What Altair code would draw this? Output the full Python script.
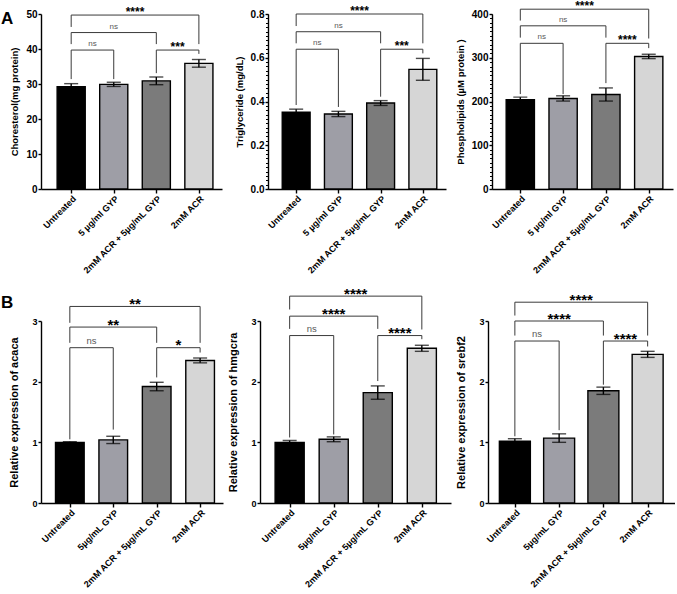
import json
import altair as alt
import pandas as pd

CATS_A = ["Untreated", "5 µg/ml GYP", "2mM ACR + 5µg/mL GYP", "2mM ACR"]
CATS_B = ["Untreated", "5µg/mL GYP", "2mM ACR + 5µg/mL GYP", "2mM ACR"]
BAR_COLORS = ["#000000", "#9e9ea6", "#7b7b7b", "#d6d6d6"]

CHOL_MEAN = [29.2, 29.9, 30.9, 35.9]
CHOL_ERR = [0.9, 0.6, 1.1, 1.1]
TG_MEAN = [0.351, 0.343, 0.393, 0.547]
TG_ERR = [0.014, 0.012, 0.011, 0.05]
PL_MEAN = [204, 207, 216, 303]
PL_ERR = [6, 6, 15, 5]
ACACA_MEAN = [1.0, 1.04, 1.92, 2.35]
ACACA_ERR = [0.01, 0.06, 0.07, 0.04]
HMGCRA_MEAN = [1.0, 1.05, 1.82, 2.55]
HMGCRA_ERR = [0.03, 0.04, 0.11, 0.05]
SREBF2_MEAN = [1.02, 1.07, 1.85, 2.45]
SREBF2_ERR = [0.04, 0.07, 0.06, 0.05]

# significance brackets: (from group, to group, level, left leg end, right leg end, label)
CHOL_BR = [(0, 3, 49.7, 46.3, 41.4, "****"), (0, 2, 44.7, 41.4, 41.4, "ns"),
           (0, 1, 39.7, 31.4, 31.4, "ns"), (2, 3, 39.7, 33.1, 38.6, "***")]
TG_BR = [(0, 3, 0.80, 0.745, 0.666, "****"), (0, 2, 0.719, 0.666, 0.666, "ns"),
         (0, 1, 0.639, 0.384, 0.375, "ns"), (2, 3, 0.639, 0.422, 0.62, "***")]
PL_BR = [(0, 3, 411, 385, 344, "****"), (0, 2, 373, 346, 346, "ns"),
         (0, 1, 333, 217, 217, "ns"), (2, 3, 333, 242, 322, "****")]
ACACA_BR = [(0, 3, 3.24, 2.97, 2.64, "**"), (0, 2, 2.90, 2.64, 2.64, "**"),
            (0, 1, 2.56, 1.05, 1.21, "ns"), (2, 3, 2.56, 2.07, 2.48, "*")]
HMGCRA_BR = [(0, 3, 3.41, 3.19, 2.86, "****"), (0, 2, 3.08, 2.87, 2.87, "****"),
             (0, 1, 2.76, 1.08, 1.13, "ns"), (2, 3, 2.76, 2.01, 2.70, "****")]
SREBF2_BR = [(0, 3, 3.31, 3.09, 2.76, "****"), (0, 2, 3.00, 2.76, 2.76, "****"),
             (0, 1, 2.67, 1.10, 1.20, "ns"), (2, 3, 2.67, 1.95, 2.58, "****")]

CHOL_TICKS = [0, 10, 20, 30, 40, 50]
TG_TICKS = [0, 0.2, 0.4, 0.6, 0.8]
TG_MINOR = [round(k * 0.02, 2) for k in range(41)]
PL_TICKS = [0, 100, 200, 300, 400]
PL_MINOR = [k * 10 for k in range(41)]
REL_TICKS = [0, 1, 2, 3]

FONT = "Liberation Sans"
LINE = "#3a3a3a"


def panel(cats, means, errs, brackets, ytitle, ticks, width, height, xdom,
          half=0.33, minor=None, star_size=12, star_dy=1, ns_size=8, letter=None,
          letter_y=-3, title_size=10, tick_label_size=10, title_pad=6):
    idx = list(range(len(cats)))
    d = pd.DataFrame({
        "i": idx, "cat": cats, "m": means,
        "lo": [m - e for m, e in zip(means, errs)],
        "hi": [m + e for m, e in zip(means, errs)],
        "col": BAR_COLORS,
    })
    d["x0"] = d["i"] - half
    d["x1"] = d["i"] + half
    d["z"] = 0
    br = pd.DataFrame(brackets, columns=["a", "b", "lvl", "la", "lb", "label"])
    br["xm"] = (br["a"] + br["b"]) / 2
    legs = pd.DataFrame(
        [{"x": r.a, "lvl": r.lvl, "bot": r.la} for r in br.itertuples()]
        + [{"x": r.b, "lvl": r.lvl, "bot": r.lb} for r in br.itertuples()]
    )
    ymax = ticks[-1]
    xs = alt.Scale(domain=xdom, nice=False, zero=False)
    ys = alt.Scale(domain=[0, ymax], nice=False, zero=True)
    xaxis = alt.Axis(values=idx, labelExpr=json.dumps(cats, ensure_ascii=False) + "[datum.value]",
                     labelAngle=-45, labelAlign="right", labelBaseline="top",
                     labelFontSize=9, labelPadding=1, tickSize=4, title=None, grid=False,
                     labelBound=False, labelOverlap=False, orient="bottom")
    yaxis = alt.Axis(values=ticks, title=ytitle, grid=False, tickSize=3,
                     labelFontSize=tick_label_size, titleFontSize=title_size,
                     titlePadding=title_pad, labelPadding=1, orient="left")

    bars = alt.Chart(d).mark_bar(stroke="black", strokeWidth=1.4).encode(
        x=alt.X("x0:Q", scale=xs, axis=xaxis), x2="x1:Q",
        y=alt.Y("m:Q", scale=ys, axis=yaxis), y2="z:Q",
        color=alt.Color("col:N", scale=None, legend=None),
    )
    err = alt.Chart(d).mark_rule(color="black", strokeWidth=1.4).encode(
        x=alt.X("i:Q", scale=xs, axis=None),
        y=alt.Y("lo:Q", scale=ys, axis=None), y2="hi:Q")
    cap_hi = alt.Chart(d).mark_tick(color="black", thickness=1.4, size=14, orient="horizontal").encode(
        x=alt.X("i:Q", scale=xs, axis=None), y=alt.Y("hi:Q", scale=ys, axis=None))
    cap_lo = alt.Chart(d).mark_tick(color="black", thickness=1.4, size=14, orient="horizontal").encode(
        x=alt.X("i:Q", scale=xs, axis=None), y=alt.Y("lo:Q", scale=ys, axis=None))
    hrule = alt.Chart(br).mark_rule(color=LINE, strokeWidth=1).encode(
        x=alt.X("a:Q", scale=xs, axis=None), x2="b:Q",
        y=alt.Y("lvl:Q", scale=ys, axis=None))
    vrule = alt.Chart(legs).mark_rule(color=LINE, strokeWidth=1).encode(
        x=alt.X("x:Q", scale=xs, axis=None),
        y=alt.Y("bot:Q", scale=ys, axis=None), y2="lvl:Q")
    stars = alt.Chart(br).transform_filter("datum.label != 'ns'").mark_text(
        baseline="alphabetic", dy=star_dy, font=FONT, fontWeight="bold", fontSize=star_size,
        color="black", fill="black").encode(
        x=alt.X("xm:Q", scale=xs, axis=None), y=alt.Y("lvl:Q", scale=ys, axis=None), text="label:N")
    ns = alt.Chart(br).transform_filter("datum.label == 'ns'").mark_text(
        baseline="alphabetic", dy=-4, font=FONT, fontSize=ns_size, color="#595959", fill="#595959").encode(
        x=alt.X("xm:Q", scale=xs, axis=None), y=alt.Y("lvl:Q", scale=ys, axis=None), text="label:N")
    layers = [bars, err, cap_hi, cap_lo, hrule, vrule, stars, ns]
    if letter is not None:
        lt = alt.Chart(pd.DataFrame({"t": [letter]})).mark_text(
            font=FONT, fontWeight="bold", fontSize=17, align="left", baseline="top",
            color="black", fill="black").encode(
            x=alt.value(-40), y=alt.value(letter_y), text="t:N")
        layers.append(lt)
    if minor is not None:
        mn = alt.Chart(d).mark_rule(opacity=0).encode(
            x=alt.X("i:Q", scale=xs, axis=None),
            y=alt.Y("m:Q", scale=ys, axis=alt.Axis(values=minor, labels=False, tickSize=2.5, tickWidth=1,
                                                   domain=False, title=None, grid=False, orient="left")))
        layers.append(mn)
    ch = alt.layer(*layers).resolve_axis(x="independent", y="independent")
    return ch.properties(width=width, height=height)


A_KW = dict(star_size=12, star_dy=1, ns_size=8, title_size=9.5, tick_label_size=10, title_pad=6)
B_KW = dict(star_size=15, star_dy=2.5, ns_size=9.5, title_size=11, tick_label_size=9, title_pad=12)

a1 = panel(CATS_A, CHOL_MEAN, CHOL_ERR, CHOL_BR, "Choresterol(mg protein)", CHOL_TICKS,
           181, 175, [-0.709, 3.543], letter="A", letter_y=-3, **A_KW)
a2 = panel(CATS_A, TG_MEAN, TG_ERR, TG_BR, "Triglyceride (mg/dL)", TG_TICKS,
           178, 175, [-0.667, 3.548], minor=TG_MINOR, **A_KW)
a3 = panel(CATS_A, PL_MEAN, PL_ERR, PL_BR, "Phospholipids (µM protein )", PL_TICKS,
           181, 175, [-0.661, 3.567], minor=PL_MINOR, **A_KW)
b1 = panel(CATS_B, ACACA_MEAN, ACACA_ERR, ACACA_BR, "Relative expression of acaca", REL_TICKS,
           182, 182, [-0.664, 3.527], letter="B", letter_y=-26, **B_KW)
b2 = panel(CATS_B, HMGCRA_MEAN, HMGCRA_ERR, HMGCRA_BR, "Relative expression of hmgcra", REL_TICKS,
           191, 182, [-0.673, 3.662], **B_KW)
b3 = panel(CATS_B, SREBF2_MEAN, SREBF2_ERR, SREBF2_BR, "Relative expression of srebf2", REL_TICKS,
           187, 182, [-0.607, 3.618], half=0.35, **B_KW)

row_a = alt.hconcat(a1, a2, a3, spacing=46, bounds="flush")
row_b = alt.hconcat(b1, b2, b3, spacing=37, bounds="flush")
# nested flush rows have zero layout height, so the spacing is the full offset between rows
chart = alt.vconcat(row_a, row_b, spacing=307, bounds="flush").properties(
    padding={"left": 1, "top": 0, "right": 0, "bottom": 0}
).configure_view(stroke=None).configure_axis(
    labelFont=FONT, labelFontWeight="bold", labelColor="black",
    titleFont=FONT, titleFontWeight="bold", titleColor="black",
    domainColor="black", domainWidth=1.4, tickColor="black", tickWidth=1.4,
)

chart.save("out.html", embed_options={"renderer": "svg", "actions": False})
